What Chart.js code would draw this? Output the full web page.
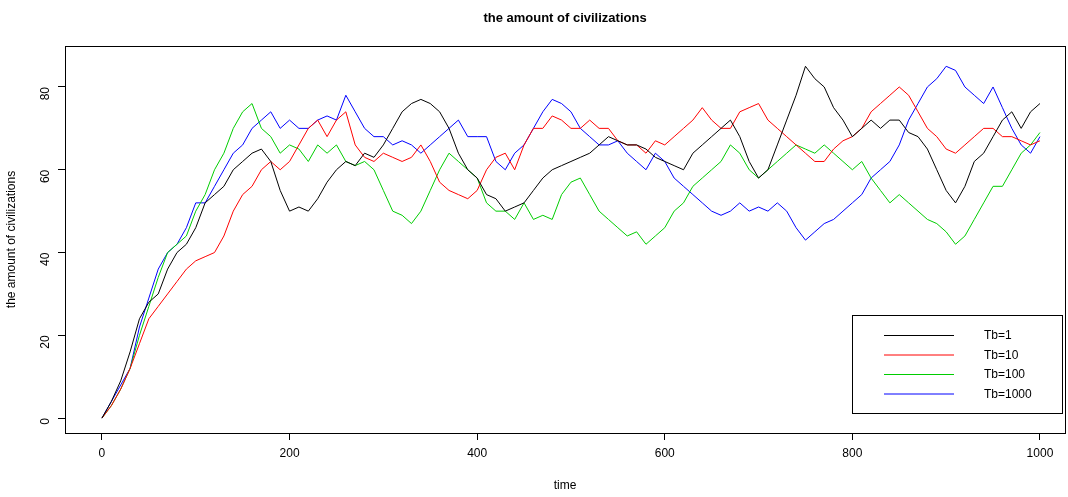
<!DOCTYPE html>
<html>
<head>
<meta charset="utf-8">
<script src="https://cdn.jsdelivr.net/npm/chart.js@4.4.0/dist/chart.umd.min.js"></script>
<style>
  body { margin: 0; background: #fff; }
  #wrap { width: 1068px; height: 497px; }
</style>
</head>
<body>
<div id="wrap"><canvas id="c" width="1068" height="497"></canvas></div>
<script>
const times = [];
for (let t = 0; t <= 1000; t += 10) times.push(t);

const tb1 = [0,4,9,16,24,28,30,36,40,42,46,52,54,56,60,62,64,65,62,55,50,51,50,53,57,60,62,61,64,63,
  66,70,74,76,77,76,74,70,64,60,58,54,53,50,51,52,55,58,60,61,62,63,64,66,68,67,66,66,65,63,
  62,61,60,64,66,68,70,72,68,62,58,60,66,72,78,85,82,80,75,72,68,70,72,70,72,72,69,68,65,60,
  55,52,56,62,64,68,72,74,70,74,76];
const tb10 = [0,3,7,12,18,24,27,30,33,36,38,39,40,44,50,54,56,60,62,60,62,66,70,72,68,72,74,66,63,62,
  64,63,62,63,66,62,57,55,54,53,55,60,63,64,60,66,70,70,73,72,70,70,72,70,70,67,66,66,64,67,
  66,68,70,72,75,72,70,70,74,75,76,72,70,68,66,64,62,62,65,67,68,70,74,76,78,80,78,74,70,68,
  65,64,66,68,70,70,68,68,67,66,67];
const tb100 = [0,3,7,12,20,27,34,40,42,44,50,54,60,64,70,74,76,70,68,64,66,65,62,66,64,66,62,61,62,60,
  55,50,49,47,50,55,60,64,62,60,58,52,50,50,48,52,48,49,48,54,57,58,54,50,48,46,44,45,42,44,
  46,50,52,56,58,60,62,66,64,60,58,60,62,64,66,65,64,66,64,62,60,62,58,55,52,54,52,50,48,47,
  45,42,44,48,52,56,56,60,64,66,69];
const tb1000 = [0,4,8,12,22,29,36,40,42,46,52,52,56,60,64,66,70,72,74,70,72,70,70,72,73,72,78,74,70,68,
  68,66,67,66,64,66,68,70,72,68,68,68,62,60,64,66,70,74,77,76,74,70,68,66,66,67,64,62,60,64,
  62,58,56,54,52,50,49,50,52,50,51,50,52,50,46,43,45,47,48,50,52,54,58,60,62,66,72,76,80,82,
  85,84,80,78,76,80,75,70,66,64,68];

const seriesLabels = ['Tb=1', 'Tb=10', 'Tb=100', 'Tb=1000'];
const seriesColors = ['#000000', '#ff0000', '#00cd00', '#0000ff'];
const seriesData = [tb1, tb10, tb100, tb1000];
const xTicks = [0, 200, 400, 600, 800, 1000];
const yTicks = [0, 20, 40, 60, 80];

const FONT = 'Liberation Sans, Arial, sans-serif';

const frame = {
  id: 'frame',
  afterDraw(chart) {
    const { ctx, chartArea: a } = chart;
    ctx.save();
    ctx.strokeStyle = '#000';
    ctx.lineWidth = 1;
    ctx.strokeRect(a.left + 0.5, a.top + 0.5, a.width, a.height);
    // title
    ctx.fillStyle = '#000';
    ctx.font = 'bold 13px ' + FONT;
    ctx.textAlign = 'center';
    ctx.textBaseline = 'middle';
    ctx.fillText('the amount of civilizations', (a.left + a.right) / 2, 18);
    // legend
    const lx = 852, ly = 315, lw = 210, lh = 98;
    ctx.fillStyle = '#fff';
    ctx.fillRect(lx, ly, lw, lh);
    ctx.strokeRect(lx + 0.5, ly + 0.5, lw, lh);
    ctx.font = '12px ' + FONT;
    ctx.textAlign = 'left';
    chart.data.datasets.forEach((ds, i) => {
      const y = ly + 20 + i * 19.5;
      ctx.strokeStyle = ds.borderColor;
      ctx.beginPath();
      ctx.moveTo(884, y + 0.5);
      ctx.lineTo(954, y + 0.5);
      ctx.stroke();
      ctx.fillStyle = '#000';
      ctx.fillText(ds.label, 984, y + 1);
    });
    ctx.restore();
  }
};

new Chart(document.getElementById('c'), {
  type: 'line',
  data: {
    datasets: seriesData.map((vals, i) => ({
      label: seriesLabels[i],
      data: vals.map((v, j) => ({ x: times[j], y: v })),
      borderColor: seriesColors[i],
      borderWidth: 1,
      pointRadius: 0,
      tension: 0,
      fill: false
    }))
  },
  options: {
    responsive: false,
    animation: false,
    layout: { padding: { top: 46, right: 3 } },
    plugins: { legend: { display: false }, tooltip: { enabled: false } },
    scales: {
      x: {
        type: 'linear',
        min: -39.4,
        max: 1026.7,
        afterBuildTicks(s) { s.ticks = xTicks.map(v => ({ value: v })); },
        afterFit(s) { s.height = 64; },
        grid: { drawOnChartArea: false, tickLength: 7, color: '#000' },
        border: { display: false },
        ticks: { color: '#000', font: { family: FONT, size: 12 }, maxRotation: 0, padding: 6,
          callback: v => String(v) },
        title: { display: true, text: 'time', color: '#000', font: { family: FONT, size: 12 }, padding: { top: 12 } }
      },
      y: {
        min: -3.6,
        max: 89.9,
        afterBuildTicks(s) { s.ticks = yTicks.map(v => ({ value: v })); },
        afterFit(s) { s.width = 65; },
        grid: { drawOnChartArea: false, tickLength: 7, color: '#000' },
        border: { display: false },
        ticks: { color: '#000', font: { family: FONT, size: 12 }, minRotation: 90, maxRotation: 90, padding: 12,
          callback: v => String(v) },
        title: { display: true, text: 'the amount of civilizations', color: '#000', font: { family: FONT, size: 12 }, padding: { bottom: 0 } }
      }
    }
  },
  plugins: [frame]
});
</script>
</body>
</html>
